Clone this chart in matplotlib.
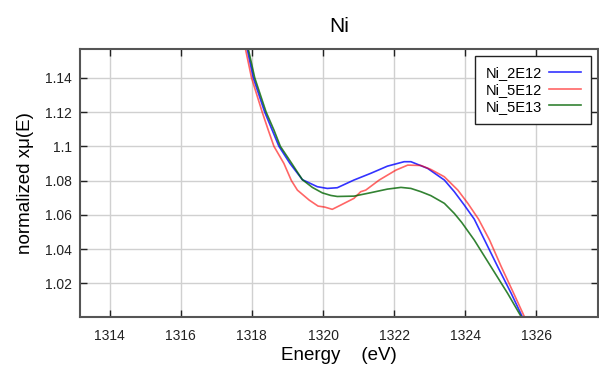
import matplotlib.pyplot as plt

plt.rcParams['font.family'] = ['Liberation Sans', 'DejaVu Sans']

# energy / normalized mu(E)
e_2e12 = [1317.75, 1317.87, 1318.04, 1318.36, 1318.57, 1318.76, 1319.07, 1319.42,
          1319.84, 1320.12, 1320.4, 1320.87, 1321.34, 1321.81, 1322.28, 1322.47,
          1322.94, 1323.41, 1323.69, 1323.97, 1324.25, 1324.54, 1324.91, 1325.29,
          1325.6, 1325.75]
mu_2e12 = [1.169, 1.1568, 1.14, 1.12, 1.1095, 1.10, 1.09, 1.0805,
           1.0764, 1.0754, 1.0758, 1.0803, 1.0842, 1.0884, 1.0910, 1.0910,
           1.0871, 1.0803, 1.0735, 1.0657, 1.0575, 1.0453, 1.0297, 1.0141,
           1.0005, 0.995]

e_5e12 = [1317.7, 1317.82, 1317.99, 1318.29, 1318.46, 1318.62, 1318.9, 1319.11,
          1319.28, 1319.61, 1319.86, 1320.05, 1320.26, 1320.5, 1320.87, 1321.06,
          1321.2, 1321.58, 1322.05, 1322.38, 1322.75, 1323.03, 1323.41, 1323.79,
          1324.07, 1324.37, 1324.68, 1325.01, 1325.36, 1325.66, 1325.8]
mu_5e12 = [1.169, 1.1568, 1.14, 1.12, 1.1095, 1.10, 1.09, 1.08,
           1.0744, 1.0686, 1.0651, 1.0645, 1.0632, 1.0657, 1.0696, 1.0735,
           1.0744, 1.0803, 1.0861, 1.0890, 1.0888, 1.0865, 1.0822, 1.0744,
           1.0667, 1.0575, 1.0453, 1.0297, 1.0141, 1.0005, 0.995]

e_5e13 = [1317.78, 1317.9, 1318.08, 1318.4, 1318.62, 1318.8, 1319.12, 1319.42,
          1319.7, 1319.98, 1320.22, 1320.4, 1320.87, 1321.34, 1321.81, 1322.19,
          1322.47, 1322.75, 1323.03, 1323.41, 1323.69, 1323.9, 1324.25, 1324.72,
          1325.19, 1325.57, 1325.72]
mu_5e13 = [1.168, 1.1568, 1.14, 1.12, 1.1095, 1.10, 1.09, 1.0805,
           1.0760, 1.0728, 1.0713, 1.0707, 1.0709, 1.0729, 1.0750, 1.0760,
           1.0754, 1.0735, 1.0712, 1.0667, 1.0608, 1.0555, 1.0453, 1.0297,
           1.0141, 1.0005, 0.995]

series = [
    ('Ni_2E12', e_2e12, mu_2e12, '#0000ff', 0.8),
    ('Ni_5E12', e_5e12, mu_5e12, '#ff0000', 0.6),
    ('Ni_5E13', e_5e13, mu_5e13, '#006400', 0.8),
]

x_ticks = [1314, 1316, 1318, 1320, 1322, 1324, 1326]
y_ticks = [1.02, 1.04, 1.06, 1.08, 1.10, 1.12, 1.14]
y_labels = ['1.02', '1.04', '1.06', '1.08', '1.1', '1.12', '1.14']

fig = plt.figure(figsize=(5.99, 3.67), dpi=100)
ax = fig.add_axes([0.1336, 0.137, 0.8642, 0.7295])

for name, e, mu, col, a in series:
    ax.plot(e, mu, color=col, alpha=a, lw=1.2, label=name)

ax.set_xlim(1313.17, 1327.72)
ax.set_ylim(1.0005, 1.1568)
ax.set_xticks(x_ticks)
ax.set_yticks(y_ticks)
ax.set_yticklabels(y_labels)
ax.grid(True, color='#d0d0d0', lw=1)
ax.set_axisbelow(True)
ax.tick_params(direction='in', length=5, width=1, top=True, right=True,
               labelsize=10, colors='#222222')
ax.tick_params(axis='y', pad=6)
ax.tick_params(axis='x', pad=9)
for sp in ax.spines.values():
    sp.set_color('#555555')
    sp.set_linewidth(1.5)

ax.set_title('Ni', fontsize=15, pad=12)
ax.set_xlabel('Energy    (eV)', fontsize=13.5, labelpad=3)
ax.set_ylabel('normalized x\u03bc(E)', fontsize=13.5, labelpad=8)

leg = ax.legend(loc='upper right', markerfirst=False, fontsize=10.5,
                fancybox=False, framealpha=1, edgecolor='#222222',
                handlelength=2.2, handletextpad=0.5, labelspacing=0.2,
                borderpad=0.7, borderaxespad=0.45)
leg.get_frame().set_linewidth(1)

fig.savefig('out.png', dpi=100)
